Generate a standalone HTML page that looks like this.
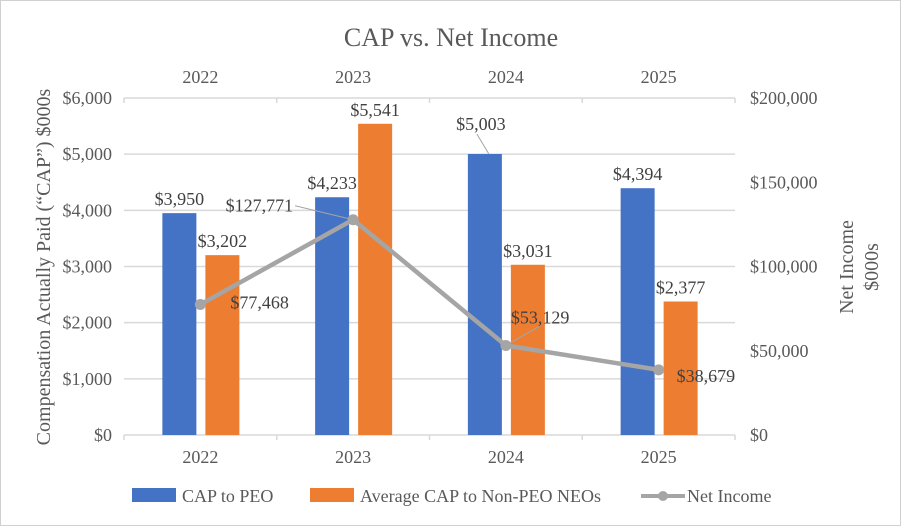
<!DOCTYPE html>
<html><head><meta charset="utf-8"><style>
body{margin:0;background:#fff}
svg, svg text{font-family:"Liberation Serif","Times New Roman","DejaVu Serif",serif}
svg text{fill:#595959}
</style></head><body>
<svg width="902" height="527" viewBox="0 0 902 527" font-family="Liberation Serif, serif">
<rect x="0.5" y="0.5" width="900" height="525" fill="#fff" stroke="#d0d0d0"/>
<text x="451" y="46" font-size="26" text-anchor="middle">CAP vs. Net Income</text>
<g id="grid"></g><g id="bars"></g><g id="line"></g><g id="labels"></g><g id="axes"></g>
<text transform="translate(50,267) rotate(-90)" font-size="20" text-anchor="middle">Compensation Actually Paid (“CAP”) $000s</text>
<text transform="translate(853,267) rotate(-90)" font-size="20" text-anchor="middle"><tspan x="0" dy="0">Net Income</tspan><tspan x="0" dy="25">$000s</tspan></text>
<g>
<rect x="132" y="488" width="44" height="14" fill="#4472C4"/>
<text x="182" y="502" font-size="18">CAP to PEO</text>
<rect x="310" y="488" width="44" height="14" fill="#ED7D31"/>
<text x="360" y="502" font-size="18">Average CAP to Non-PEO NEOs</text>
<line x1="641" y1="496" x2="685" y2="496" stroke="#A5A5A5" stroke-width="4"/>
<circle cx="663" cy="496" r="5" fill="#A5A5A5"/>
<text x="687" y="502" font-size="18">Net Income</text>
</g>
</svg>
<script>
const categories=["2022","2023","2024","2025"];
const capPeo=[3950,4233,5003,4394];
const capNeo=[3202,5541,3031,2377];
const netIncome=[77468,127771,53129,38679];
const leftTicks=[0,1000,2000,3000,4000,5000,6000];
const rightTicks=[0,50000,100000,150000,200000];
const NS="http://www.w3.org/2000/svg";
const L=124,R=735,T=98,B=435;
const cw=(R-L)/categories.length;
const xc=i=>L+cw*(i+0.5);
const yl=v=>B-(v/6000)*(B-T);
const yr=v=>B-(v/200000)*(B-T);
const fmt=v=>"$"+v.toLocaleString("en-US");
function mk(tag,attrs,parent,text){const e=document.createElementNS(NS,tag);for(const k in attrs)e.setAttribute(k,attrs[k]);if(text!=null)e.textContent=text;document.getElementById(parent).appendChild(e);return e;}
leftTicks.forEach(v=>{
 const g=mk("line",{x1:L,x2:R,y1:yl(v),y2:yl(v),stroke:"#d9d9d9","stroke-width":1.5},"grid");
 
 
 const t=mk("text",{x:L-12,y:yl(v)+6,"font-size":18,"text-anchor":"end"},"axes",fmt(v));
 
 
});
rightTicks.forEach(v=>{
 const t=mk("text",{x:750,y:yr(v)+6,"font-size":18},"axes",fmt(v));
 
 
});
for(let i=0;i<=categories.length;i++){
 const x=L+cw*i;
 const a=mk("line",{x1:x,x2:x,y1:T,y2:T+5,stroke:"#d9d9d9","stroke-width":1.5},"axes");
 
 
 const b=mk("line",{x1:x,x2:x,y1:B,y2:B+5,stroke:"#d9d9d9","stroke-width":1.5},"axes");
 
 
}
categories.forEach((c,i)=>{
 const t1=mk("text",{x:xc(i),y:83,"font-size":18,"text-anchor":"middle"},"axes",c);
 
 
 const t2=mk("text",{x:xc(i),y:463,"font-size":18,"text-anchor":"middle"},"axes",c);
 
 
 const bw=34;
 const b1=mk("rect",{x:xc(i)-38,y:yl(capPeo[i]),width:bw,height:B-yl(capPeo[i]),fill:"#4472C4"},"bars");
 
 
 const b2=mk("rect",{x:xc(i)+5,y:yl(capNeo[i]),width:bw,height:B-yl(capNeo[i]),fill:"#ED7D31"},"bars");
 
 
 let lx=xc(i)-21,ly=yl(capPeo[i])-8;
 if(i===2){lx=xc(i)-25;ly=yl(capPeo[i])-24;
  const ld=mk("line",{x1:xc(i)-29,y1:yl(capPeo[i])-20,x2:xc(i)-17,y2:yl(capPeo[i]),stroke:"#a5a5a5"},"labels");
  
  }
 const l1=mk("text",{x:lx,y:ly,"font-size":18,"text-anchor":"middle",style:"fill:#404040"},"labels",fmt(capPeo[i]));
 
 
 const l2=mk("text",{x:xc(i)+22,y:yl(capNeo[i])-8,"font-size":18,"text-anchor":"middle",style:"fill:#404040"},"labels",fmt(capNeo[i]));
 
 
});
const pts=netIncome.map((v,i)=>xc(i)+","+yr(v)).join(" ");
const pl=mk("polyline",{points:pts,fill:"none",stroke:"#A5A5A5","stroke-width":4.5,"stroke-linejoin":"round"},"line");


const offs=[[30,-2,"start"],[-60,-14,"end"],[5,-28,"start"],[18,6,"start"]];
netIncome.forEach((v,i)=>{
 const c=mk("circle",{cx:xc(i),cy:yr(v),r:5.5,fill:"#A5A5A5"},"line");
 
 
 const o=offs[i];
 if(i===1){const ld=mk("line",{x1:xc(i)-58,y1:yr(v)-14,x2:xc(i),y2:yr(v),stroke:"#a5a5a5"},"labels");
  
  }
 if(i===2){const ld=mk("line",{x1:xc(i),y1:yr(v),x2:xc(i)+35,y2:yr(v)-20,stroke:"#a5a5a5"},"labels");
  
  }
 const t=mk("text",{x:xc(i)+o[0],y:yr(v)+o[1]+6,"font-size":18,"text-anchor":o[2],style:"fill:#404040"},"labels",fmt(v));
 
 
});
</script>
</body></html>
